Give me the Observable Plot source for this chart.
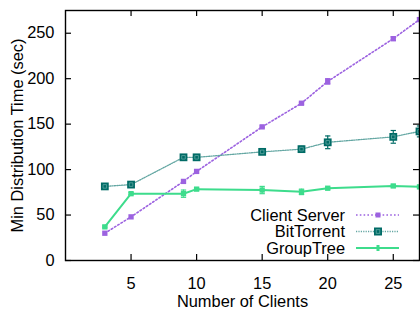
<!DOCTYPE html>
<html>
<head>
<meta charset="utf-8">
<script src="https://cdn.jsdelivr.net/npm/d3@7"></script>
<script src="https://cdn.jsdelivr.net/npm/@observablehq/plot@0.6"></script>
<style>
  body { margin: 0; background: #fff; }
  #wrap { position: relative; width: 420px; height: 310px; }
  #legend { position: absolute; left: 0; top: 0; pointer-events: none; }
</style>
</head>
<body>
<div id="wrap"></div>
<script>
const clients = [3, 5, 9, 10, 15, 18, 20, 25, 27];
const clientServer = [30, 48, 87, 98, 147, 173, 197, 244, 265];
const clientServerErr = [0, 0, 0, 0, 1, 1, 3, 2, 2];
const bitTorrent = [81.5, 83.5, 113.5, 113.5, 119.5, 122.5, 130, 136, 142];
const bitTorrentErr = [1, 1, 1, 1, 2, 3, 7, 7, 6];
const groupTree = [37, 73.5, 73.5, 78.5, 77.5, 75.5, 79.5, 82, 81];
const groupTreeErr = [1, 1, 4, 1, 4, 3, 1, 1, 1];
const seriesNames = ["Client Server", "BitTorrent", "GroupTree"];
const xTicks = [5, 10, 15, 20, 25];
const yTicks = [0, 50, 100, 150, 200, 250];
const xLabel = "Number of Clients";
const yLabel = "Min Distribution Time (sec)";

const colors = {
  "Client Server": "#9c62e0",
  "BitTorrent": "#006b66",
  "GroupTree": "#3ddc8c"
};
const lineColors = {
  "Client Server": "#9c62e0",
  "BitTorrent": "#64a7a3",
  "GroupTree": "#3ddc8c"
};
const dashes = {"Client Server": "1.6,2.2", "BitTorrent": "1.2,1.2", "GroupTree": null};
const widths = {"Client Server": 1.6, "BitTorrent": 1.3, "GroupTree": 2};

function rows(name, vals, errs) {
  return clients.map((c, i) => ({series: name, x: c, y: vals[i], lo: vals[i] - errs[i], hi: vals[i] + errs[i], e: errs[i]}));
}
const cs = rows("Client Server", clientServer, clientServerErr);
const bt = rows("BitTorrent", bitTorrent, bitTorrentErr);
const gt = rows("GroupTree", groupTree, groupTreeErr);

const W = 420, H = 310, mL = 65, mR = 1, mT = 10, mB = 50;
const fw = W - mL - mR, fh = H - mT - mB;

const capSymbol = {
  draw(context, size) {
    const r = Math.sqrt(size) / 2;
    context.moveTo(-r, 0);
    context.lineTo(r, 0);
  }
};

function errMarks(data, color) {
  const d = data.filter(r => r.e > 0);
  return [
    Plot.ruleX(d, {x: "x", y1: "lo", y2: "hi", stroke: color, strokeWidth: 1.2, clip: true}),
    Plot.dot(d, {x: "x", y: "lo", symbol: capSymbol, r: 3, stroke: color, strokeWidth: 1.2, fill: "none", clip: true}),
    Plot.dot(d, {x: "x", y: "hi", symbol: capSymbol, r: 3, stroke: color, strokeWidth: 1.2, fill: "none", clip: true})
  ];
}

const font = "'Liberation Sans', Arial, Helvetica, sans-serif";
const fs = 16.4;

const chart = Plot.plot({
  width: W, height: H,
  marginLeft: mL, marginRight: mR, marginTop: mT, marginBottom: mB,
  style: {fontFamily: font, fontSize: fs + "px", color: "#000", background: "#fff"},
  x: {domain: [0, 27], ticks: xTicks, label: null},
  y: {domain: [0, 275], ticks: yTicks, label: null},
  marks: [
    Plot.line(cs, {x: "x", y: "y", stroke: lineColors["Client Server"], strokeWidth: widths["Client Server"], strokeDasharray: dashes["Client Server"], clip: true}),
    Plot.line(bt, {x: "x", y: "y", stroke: lineColors["BitTorrent"], strokeWidth: widths["BitTorrent"], strokeDasharray: dashes["BitTorrent"], clip: true}),
    Plot.line(gt, {x: "x", y: "y", stroke: lineColors["GroupTree"], strokeWidth: widths["GroupTree"], clip: true}),
    ...errMarks(cs, colors["Client Server"]),
    ...errMarks(bt, colors["BitTorrent"]),
    ...errMarks(gt, colors["GroupTree"]),
    Plot.dot(cs, {x: "x", y: "y", symbol: "square", r: 3, fill: colors["Client Server"], clip: true}),
    Plot.dot(bt, {x: "x", y: "y", symbol: "square", r: 4.4, fill: colors["BitTorrent"], clip: true}),
    Plot.dot(bt, {x: "x", y: "y", symbol: "square", r: 2, fill: "none", stroke: "#5fa8a3", strokeWidth: 0.8, clip: true}),
    Plot.dot(gt, {x: "x", y: "y", symbol: "square", r: 3, fill: colors["GroupTree"], clip: true}),
    Plot.frame({stroke: "#000", strokeWidth: 1.4}),
    Plot.ruleX(xTicks, {stroke: "#000", strokeWidth: 1.2, insetTop: fh - 6}),
    Plot.ruleX(xTicks, {stroke: "#000", strokeWidth: 1.2, insetBottom: fh - 6}),
    Plot.ruleY(yTicks, {stroke: "#000", strokeWidth: 1.2, insetRight: fw - 6}),
    Plot.ruleY(yTicks, {stroke: "#000", strokeWidth: 1.2, insetLeft: fw - 6}),
    Plot.axisX({ticks: xTicks, tickSize: 0, tickPadding: 10, dy: 7, label: null, fontSize: fs}),
    Plot.axisY({ticks: yTicks, tickSize: 0, tickPadding: 11, label: null, fontSize: fs}),
    Plot.text([xLabel], {frameAnchor: "bottom", textAnchor: "middle", dy: 46, fontSize: fs, fill: "#000"}),
    Plot.text([yLabel], {frameAnchor: "left", textAnchor: "middle", rotate: -90, dx: -48, fontSize: fs, fill: "#000"})
  ]
});

const wrap = document.getElementById("wrap");
wrap.appendChild(chart);

// Legend overlay (inside plot area, bottom-right)
const legendRows = [
  {name: seriesNames[0], cy: 215},
  {name: seriesNames[1], cy: 231.5},
  {name: seriesNames[2], cy: 248}
];
const svg = d3.select(wrap).append("svg")
  .attr("id", "legend").attr("width", W).attr("height", H)
  .style("font-family", font).style("font-size", fs + "px");
const g = svg.selectAll("g").data(legendRows).join("g");
g.append("text").attr("x", 345).attr("y", d => d.cy).attr("dy", "0.35em")
  .attr("text-anchor", "end").attr("fill", "#000").text(d => d.name);
g.append("line").attr("x1", 356).attr("x2", 399).attr("y1", d => d.cy).attr("y2", d => d.cy)
  .attr("stroke", d => lineColors[d.name])
  .attr("stroke-width", d => widths[d.name])
  .attr("stroke-dasharray", d => dashes[d.name]);
g.each(function(d) {
  const s = d3.select(this);
  if (d.name === "Client Server") {
    s.append("rect").attr("x", 378 - 2.5).attr("y", d.cy - 2.5).attr("width", 5).attr("height", 5).attr("fill", colors[d.name]);
  } else if (d.name === "BitTorrent") {
    s.append("rect").attr("x", 378 - 4).attr("y", d.cy - 4).attr("width", 8).attr("height", 8).attr("fill", colors[d.name]);
    s.append("rect").attr("x", 378 - 1.8).attr("y", d.cy - 1.8).attr("width", 3.6).attr("height", 3.6).attr("fill", "none").attr("stroke", "#5fa8a3").attr("stroke-width", 0.8);
  } else {
    s.append("rect").attr("x", 378 - 1.5).attr("y", d.cy - 3).attr("width", 3).attr("height", 6).attr("fill", colors[d.name]);
  }
});
</script>
</body>
</html>
